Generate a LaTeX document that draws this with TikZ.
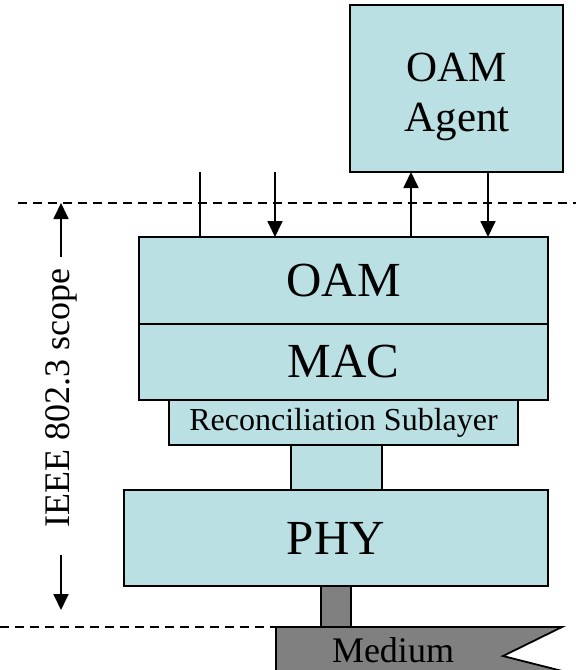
\documentclass[tikz,border=0pt]{standalone}
\usepackage{fontspec}
\setmainfont{Liberation Serif}
\usetikzlibrary{arrows.meta}
\definecolor{layerfill}{RGB}{186,224,227}
\definecolor{mediumgray}{RGB}{128,128,128}
\begin{document}
\begin{tikzpicture}[x=1pt,y=-1pt,
  layer/.style={draw=black, line width=1.8pt, fill=layerfill, inner sep=0pt, outer sep=0pt, anchor=north west, align=center},
  bigtext/.style={font=\fontsize{49}{56}\selectfont},
  sig/.style={line width=1.8pt, -{Triangle[width=15pt,length=16pt]}},
  plain/.style={line width=1.8pt},
  boundary/.style={line width=1.6pt, dash pattern=on 9pt off 6pt}
]
\useasboundingbox (0,0) rectangle (576,670);

% scope boundaries
\coordinate (dashtop) at (18,203);
\coordinate (dashbot) at (0,627);
\draw[boundary] (dashtop) -- (576,203);
\draw[boundary] (dashbot) -- (300,627);

% management entity
\node[layer, minimum width=213, minimum height=167] (agent) at (350,5) {};
\node[font=\fontsize{43}{50}\selectfont, align=center] (agenttext) at (457,97) {OAM\\Agent};

% layer stack
\node[layer, bigtext, minimum width=409, minimum height=87] (oam) at (139,237) {OAM};
\node[layer, bigtext, minimum width=409, minimum height=76] (mac) at (139,324) {MAC};
\node[layer, minimum width=349, minimum height=45, font=\fontsize{32}{38}\selectfont] (rs) at (169,400) {Reconciliation Sublayer};
\node[layer, minimum width=91, minimum height=45] (mii) at (291,445) {};
\node[layer, bigtext, minimum width=424, minimum height=96] (phy) at (124,490) {PHY};
\node[layer, fill=mediumgray, minimum width=30, minimum height=41] (mdi) at (321,586) {};

% medium
\draw[line width=1.8pt, fill=mediumgray] (276,674) -- (276,627) -- (562,627) -- (503,656) -- (574,674);
\node[font=\fontsize{36}{42}\selectfont] (medium) at (393,650) {Medium};

% interface lines into the OAM sublayer
\coordinate (x1) at (200,172);
\coordinate (x2) at (275,172);
\coordinate (x3) at (411,172);
\coordinate (x4) at (488,172);
\draw[plain] (x1) -- (x1 |- oam.north);
\draw[sig] (x2) -- (x2 |- oam.north);
\draw[sig] (x3 |- oam.north) -- (x3 |- agent.south);
\draw[sig] (x4 |- agent.south) -- (x4 |- oam.north);

% scope label with extent arrows
\node[rotate=90, inner sep=0pt, font=\fontsize{36}{42}\selectfont] (scope) at (61,398) {IEEE 802.3 scope};
\coordinate (scopeup) at (61,257);
\coordinate (scopedown) at (61,555);
\draw[sig] (scopeup) -- (scopeup |- dashtop);
\draw[sig] (scopedown) -- (scopedown |- 0,610);
\end{tikzpicture}
\end{document}
